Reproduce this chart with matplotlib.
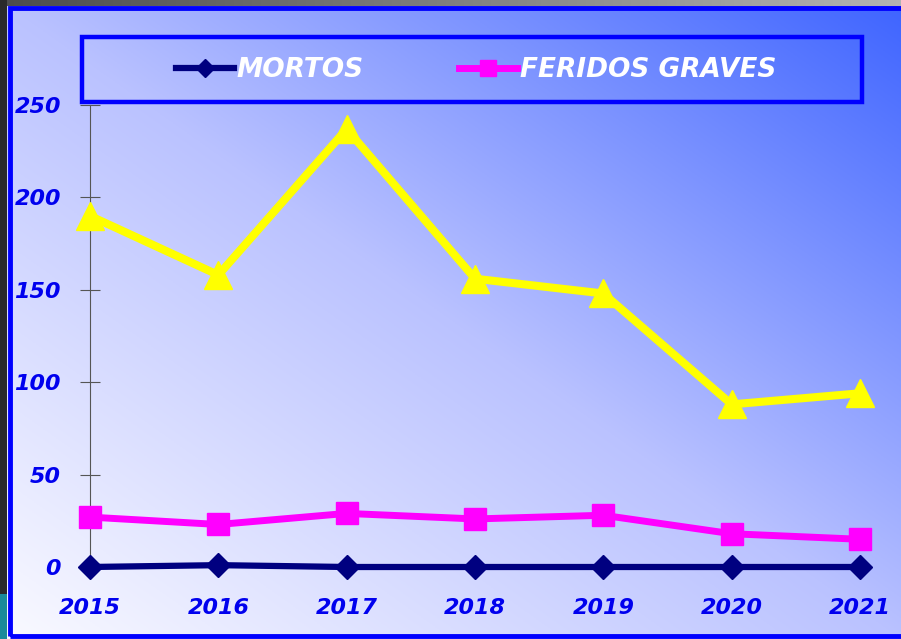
import numpy as np
import matplotlib
matplotlib.use("Agg")
import matplotlib.pyplot as plt
from matplotlib.patches import Rectangle
from matplotlib.lines import Line2D

years = [2015, 2016, 2017, 2018, 2019, 2020, 2021]
mortos = [0, 1, 0, 0, 0, 0, 0]
feridos_graves = [27, 23, 29, 26, 28, 18, 15]
feridos_leves = [190, 158, 237, 156, 148, 88, 94]
yticks = [0, 50, 100, 150, 200, 250]

W, H = 901, 639
fig = plt.figure(figsize=(W / 100, H / 100), dpi=100)

# background gradient (white bottom-left -> blue top-right)
bg = fig.add_axes([0, 0, 1, 1], zorder=-10)
bg.set_axis_off()
yy, xx = np.mgrid[0:1:300j, 0:1:400j]  # yy: 0 bottom -> 1 top
t = np.clip((xx + yy) / 2, 0, 1)
stops = np.array([0.0, 0.5, 1.0])
cols = np.array([[250, 250, 255], [186, 194, 255], [62, 100, 255]]) / 255
img = np.stack([np.interp(t, stops, cols[:, k]) for k in range(3)], axis=-1)
bg.imshow(img, origin="lower", extent=[0, 1, 0, 1], aspect="auto")
# outer top gray band and left dark strip
gray = np.linspace(0.3, 0.7, 200)[None, :, None] * np.ones((1, 1, 3))
bg.imshow(gray, extent=[0, 1, 1 - 6 / H, 1], aspect="auto")
bg.add_patch(Rectangle((0, 0), 7 / W, 1, color="#2a2a2a", lw=0))
bg.add_patch(Rectangle((0, 0), 7 / W, 45 / H, color="#1a8a9a", lw=0))
# blue frame
bg.add_patch(Rectangle((10 / W, 3 / H), 1.2, 1 - 11 / H, fill=False,
                       edgecolor="#0000ff", lw=3.5))
bg.set_xlim(0, 1)
bg.set_ylim(0, 1)

# main axes
ax = fig.add_axes([90 / W, 72 / H, (860 - 90) / W, (567 - 105) / H])
ax.patch.set_alpha(0)
ax.plot(years, feridos_leves, color="#ffff00", lw=5.8, marker="^", ms=20,
        clip_on=False, zorder=3, label="_nolegend_")
ax.plot(years, feridos_graves, color="#ff00ff", lw=5.0, marker="s", ms=16,
        clip_on=False, zorder=4, label="FERIDOS GRAVES")
ax.plot(years, mortos, color="#000080", lw=4.5, marker="D", ms=12,
        clip_on=False, zorder=5, label="MORTOS")
ax.set_xlim(2015, 2021)
ax.set_ylim(0, 250)
for s in ["top", "right", "bottom"]:
    ax.spines[s].set_visible(False)
ax.spines["left"].set_color("#555555")
ax.spines["left"].set_linewidth(0.8)
ax.set_yticks(yticks)
ax.set_xticks(years)
ax.tick_params(axis="y", direction="inout", length=14, width=0.8, color="#555555",
               pad=14)
ax.tick_params(axis="x", length=0, pad=22)
font = dict(family="DejaVu Sans", weight="bold", style="italic", size=16)
ax.set_yticklabels([str(v) for v in yticks], color="#0000ee", **font)
ax.set_xticklabels([str(v) for v in years], color="#0000ee", **font)

# legend frame
bg.add_patch(Rectangle((82 / W, 1 - 102 / H), (862 - 82) / W, (102 - 37) / H,
                       fill=False, edgecolor="#0000ff", lw=3.2, zorder=5))
handles = [Line2D([], [], color="#000080", lw=4.5, marker="D", ms=9),
           Line2D([], [], color="#ff00ff", lw=5, marker="s", ms=11)]
leg = fig.legend(handles, ["MORTOS", "FERIDOS GRAVES"], loc="center",
                 bbox_to_anchor=(476 / W, 1 - 70 / H), ncol=2, frameon=False,
                 handlelength=2.2, handletextpad=0.1, columnspacing=3.6,
                 prop=dict(family="DejaVu Sans", weight="bold", style="italic", size=19))
for tx in leg.get_texts():
    tx.set_color("white")

fig.savefig("out.png", dpi=100)
